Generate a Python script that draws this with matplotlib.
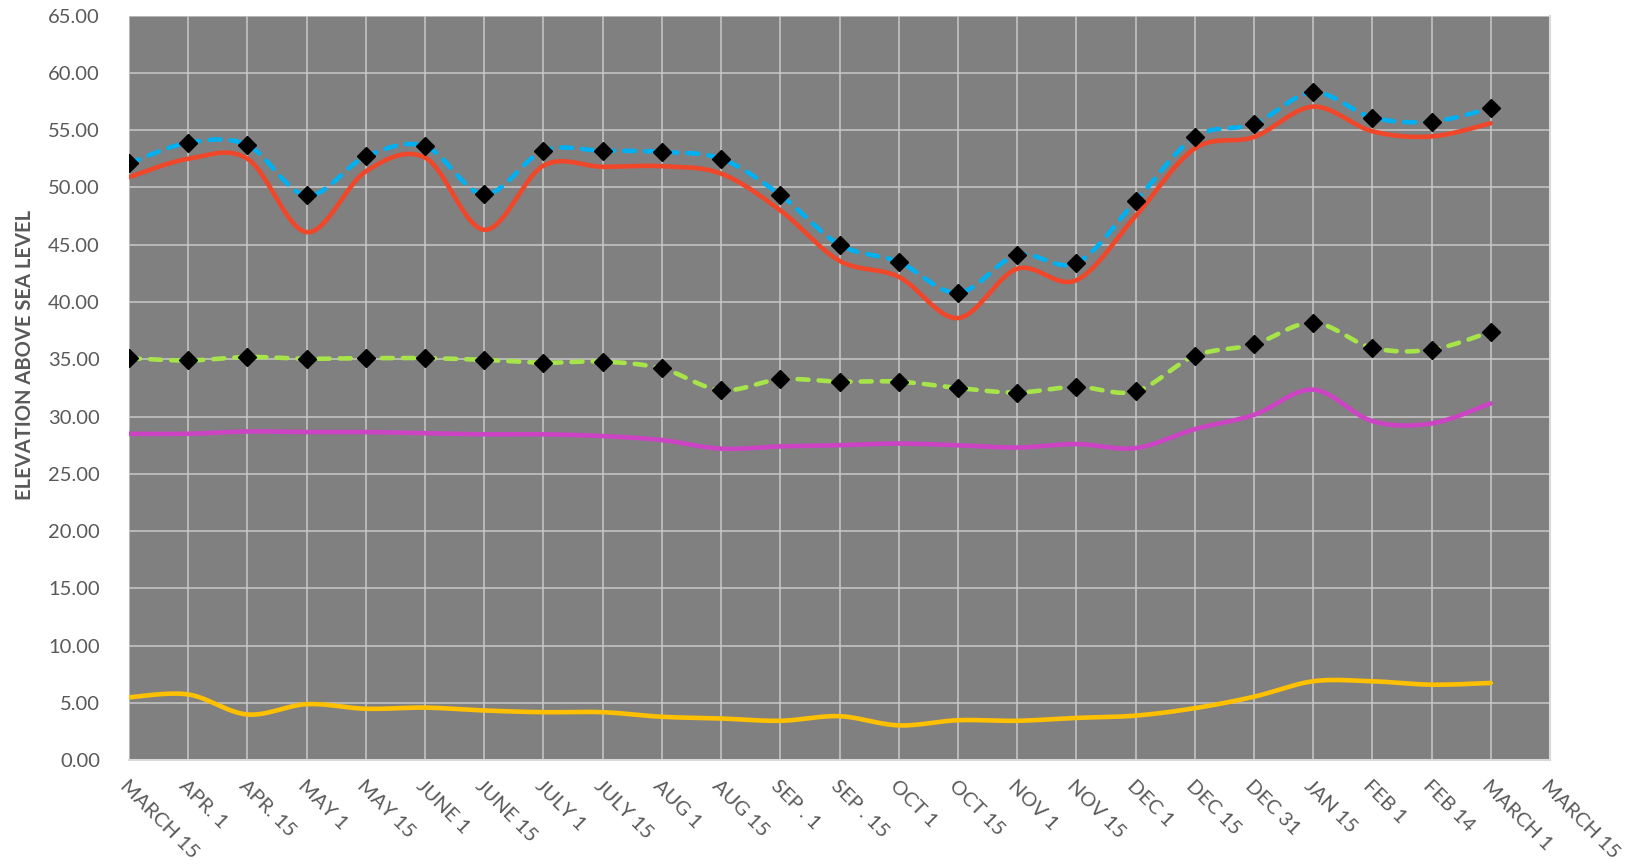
import numpy as np
import matplotlib
matplotlib.use('Agg')
import matplotlib.pyplot as plt

dates = ['MARCH 15', 'APR. 1', 'APR. 15', 'MAY 1', 'MAY 15', 'JUNE 1', 'JUNE 15',
         'JULY 1', 'JULY 15', 'AUG 1', 'AUG 15', 'SEP . 1', 'SEP . 15', 'OCT 1',
         'OCT 15', 'NOV 1', 'NOV 15', 'DEC 1', 'DEC 15', 'DEC 31', 'JAN 15',
         'FEB 1', 'FEB 14', 'MARCH 1', 'MARCH 15']

blue = [52.1, 53.9, 53.7, 49.3, 52.7, 53.6, 49.4, 53.2, 53.2, 53.1, 52.5, 49.35,
        45.0, 43.5, 40.8, 44.1, 43.4, 48.8, 54.4, 55.55, 58.3, 56.1, 55.75, 56.9]
red = [50.9, 52.5, 52.5, 46.1, 51.4, 52.6, 46.3, 51.9, 51.8, 51.85, 51.2, 48.0,
       43.6, 42.2, 38.6, 42.9, 41.9, 47.5, 53.4, 54.4, 57.05, 54.9, 54.45, 55.6]
green = [35.1, 34.9, 35.2, 35.05, 35.1, 35.1, 34.95, 34.7, 34.8, 34.2, 32.3, 33.25,
         33.05, 33.05, 32.5, 32.1, 32.6, 32.2, 35.3, 36.3, 38.2, 36.0, 35.85, 37.4]
magenta = [28.5, 28.5, 28.7, 28.65, 28.65, 28.55, 28.45, 28.45, 28.3, 27.95, 27.2, 27.4,
           27.5, 27.65, 27.5, 27.3, 27.6, 27.25, 28.9, 30.15, 32.35, 29.6, 29.4, 31.15]
yellow = [5.5, 5.75, 4.0, 4.9, 4.5, 4.6, 4.35, 4.2, 4.2, 3.8, 3.65, 3.45,
          3.85, 3.05, 3.5, 3.45, 3.7, 3.9, 4.55, 5.55, 6.9, 6.9, 6.6, 6.75]


def smooth(y, n=30):
    # excel-like smoothed line (catmull-rom through the points)
    y = np.asarray(y, dtype=float)
    x = np.arange(len(y), dtype=float)
    pts = np.column_stack([x, y])
    p = np.vstack([pts[0], pts, pts[-1]])
    out = []
    t = np.linspace(0, 1, n)[:, None]
    for i in range(1, len(p) - 2):
        p0, p1, p2, p3 = p[i - 1], p[i], p[i + 1], p[i + 2]
        c1 = p1 + (p2 - p0) / 6
        c2 = p2 - (p3 - p1) / 6
        seg = (1 - t) ** 3 * p1 + 3 * (1 - t) ** 2 * t * c1 + 3 * (1 - t) * t ** 2 * c2 + t ** 3 * p2
        out.append(seg if i == 1 else seg[1:])
    out = np.vstack(out)
    return out[:, 0], out[:, 1]


plt.rcParams['font.family'] = ['Lato', 'DejaVu Sans']
fig = plt.figure(figsize=(16.44, 8.64), dpi=100)
ax = fig.add_axes([0.0785, 0.12, 0.8643, 0.862])
ax.set_facecolor('#808080')

lw = 3.3
sx, sy = smooth(yellow)
ax.plot(sx, sy, color='#FFC000', lw=lw, solid_capstyle='round', zorder=3)
sx, sy = smooth(magenta)
ax.plot(sx, sy, color='#CC44C4', lw=lw, solid_capstyle='round', zorder=3)
sx, sy = smooth(green)
ax.plot(sx, sy, color='#A6E44A', lw=lw, dashes=(2.4, 2.2), dash_capstyle='round', zorder=3)
sx, sy = smooth(red)
ax.plot(sx, sy, color='#F0472A', lw=lw, solid_capstyle='round', zorder=3)
sx, sy = smooth(blue)
ax.plot(sx, sy, color='#00B0F0', lw=lw, dashes=(2.4, 2.2), dash_capstyle='round', zorder=4)

idx = np.arange(len(blue))
ax.plot(idx, blue, ls='none', marker='D', ms=9.5, color='black', zorder=5)
ax.plot(idx, green, ls='none', marker='D', ms=9.5, color='black', zorder=5)

ax.set_xlim(0, len(dates) - 1)
ax.set_ylim(0, 65)
ax.set_yticks(np.arange(0, 65.1, 5))
ax.set_yticklabels(['%.2f' % v for v in np.arange(0, 65.1, 5)])
ax.set_xticks(np.arange(len(dates)))
ax.set_xticklabels(dates, rotation=-45, ha='left', va='top', rotation_mode='anchor')
ax.grid(True, color='#C8C8C8', lw=1.1)
ax.set_axisbelow(True)
ax.tick_params(length=0, labelsize=14.5, colors='#595959')
ax.tick_params(axis='y', pad=21)
ax.tick_params(axis='x', pad=12)
for s in ['top', 'left']:
    ax.spines[s].set_visible(False)
for s in ['bottom', 'right']:
    ax.spines[s].set_color('#D9D9D9')
    ax.spines[s].set_linewidth(1.5)

ax.set_ylabel('ELEVATION ABOVE SEA LEVEL', fontsize=14.5, fontweight='bold', color='#595959')
ax.yaxis.set_label_coords(-0.0665, 0.544)

fig.savefig('out.png', dpi=100)
